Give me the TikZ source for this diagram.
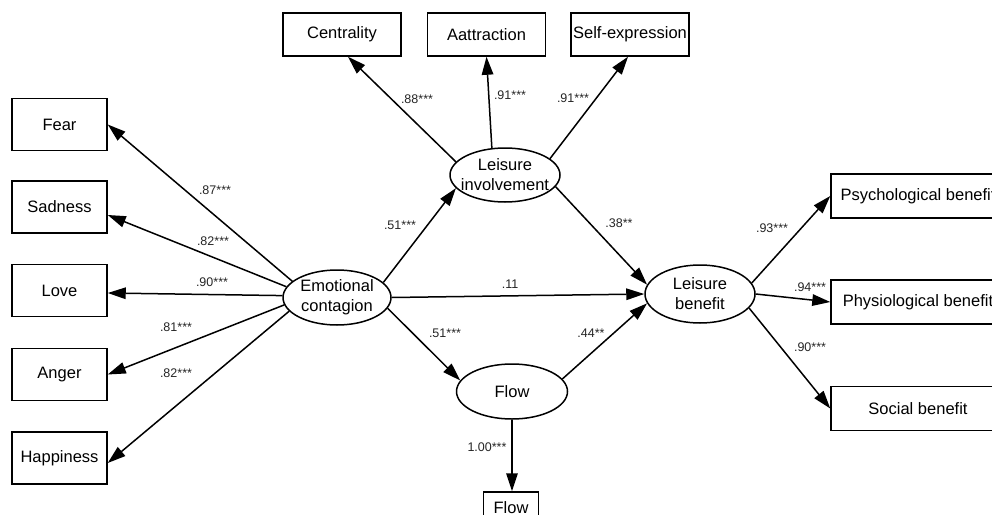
\documentclass[tikz,border=0pt]{standalone}
\usepackage{fontspec}
\setmainfont{Liberation Sans}
\usetikzlibrary{shapes.geometric,arrows.meta}
\begin{document}
\begin{tikzpicture}[x=1pt,y=-1pt,
 obs/.style={draw, line width=1.5pt, inner sep=0pt, font=\fontsize{16.5}{19}\selectfont},
 leftbox/.style={obs, minimum width=95pt, minimum height=52pt},
 topbox/.style={obs, minimum width=118pt, minimum height=43pt},
 rightbox/.style={obs, minimum width=174pt, minimum height=44pt},
 lat/.style={ellipse, draw, line width=1.5pt, inner sep=0pt},
 lattext/.style={align=center, inner sep=0pt, font=\fontsize{16.5}{20}\selectfont},
 lbl/.style={font=\fontsize{12.5}{14}\selectfont, text=black!85, inner sep=0pt},
 arr/.style={line width=1.5pt, -{Triangle[length=18pt,width=11.5pt]}}]
\useasboundingbox (0,0) rectangle (992,514);
\fill[white] (0,0) rectangle (992,514);
\clip (0,0) rectangle (992,514);

% observed indicators, left
\node[leftbox] (fear) at (59.5,124.5) {Fear};
\node[leftbox] (sad) at (59.5,207) {Sadness};
\node[leftbox] (love) at (59.5,290.5) {Love};
\node[leftbox] (anger) at (59.5,374.5) {Anger};
\node[leftbox] (happy) at (59.5,458) {Happiness};

% observed indicators, top
\node[topbox] (cent) at (342,34.5) {Centrality};
\node[topbox] (attr) at (486.5,34.5) {Aattraction};
\node[topbox] (selfe) at (630,34.5) {Self-expression};

% observed indicators, right
\node[rightbox] (psych) at (918,196) {Psychological benefit};
\node[rightbox] (physio) at (918,302) {Physiological benefit};
\node[rightbox] (social) at (918,408.5) {Social benefit};

% flow indicator
\node[obs, minimum width=55pt, minimum height=32pt] (flowbox) at (511,508) {Flow};

% latent variables
\node[lat, minimum width=110pt, minimum height=54pt,
      label={[lattext]center:Leisure\\involvement}] (li) at (505,175) {};
\node[lat, minimum width=108pt, minimum height=55pt,
      label={[lattext]center:Emotional\\contagion}] (ec) at (337,297.5) {};
\node[lat, minimum width=110pt, minimum height=58pt,
      label={[lattext]center:Leisure\\benefit}] (lb) at (700,294) {};
\node[lat, minimum width=111pt, minimum height=55pt,
      label={[lattext]center:Flow}] (flow) at (512,391.5) {};

% emotional contagion loadings
\draw[arr] (ec.160) -- (fear.east);
\draw[arr] (ec.168) -- ([yshift=-8pt]sad.east);
\draw[arr] (ec.178) -- ([yshift=-2.5pt]love.east);
\draw[arr] (ec.188) -- (anger.east);
\draw[arr] (ec.196) -- ([yshift=-5pt]happy.east);

% leisure involvement loadings
\draw[arr] (li.165) -- ([xshift=6pt]cent.south);
\draw[arr] (li.116) -- (attr.south);
\draw[arr] (li.20) -- ([xshift=-2pt]selfe.south);

% structural paths
\draw[arr] (ec.18) -- (li.195);
\draw[arr] (li.-13) -- (lb.170);
\draw[arr] (ec.east) -- (lb.west);
\draw[arr] (ec.-12) -- (flow.168);
\draw[arr] (flow.14) -- (lb.190);
\draw[arr] (flow.south) -- (flow.south |- flowbox.north);

% leisure benefit loadings
\draw[arr] (lb.12) -- (psych.west);
\draw[arr] (lb.east) -- (physio.west);
\draw[arr] (lb.-16) -- (social.west);

% coefficients
\node[lbl] (l1) at (215,190) {.87***};
\node[lbl] (l2) at (213,241) {.82***};
\node[lbl] (l3) at (212,282) {.90***};
\node[lbl] (l4) at (176,327) {.81***};
\node[lbl] (l5) at (176,373) {.82***};
\node[lbl] (l6) at (417,99) {.88***};
\node[lbl] (l7) at (510,95) {.91***};
\node[lbl] (l8) at (573,98) {.91***};
\node[lbl] (l9) at (400,225) {.51***};
\node[lbl] (l10) at (619,223) {.38**};
\node[lbl] (l11) at (510,284) {.11};
\node[lbl] (l12) at (445,333) {.51***};
\node[lbl] (l13) at (591,333) {.44**};
\node[lbl] (l14) at (772,228) {.93***};
\node[lbl] (l15) at (810,287) {.94***};
\node[lbl] (l16) at (810,347) {.90***};
\node[lbl] (l17) at (487,447) {1.00***};
\end{tikzpicture}
\end{document}
